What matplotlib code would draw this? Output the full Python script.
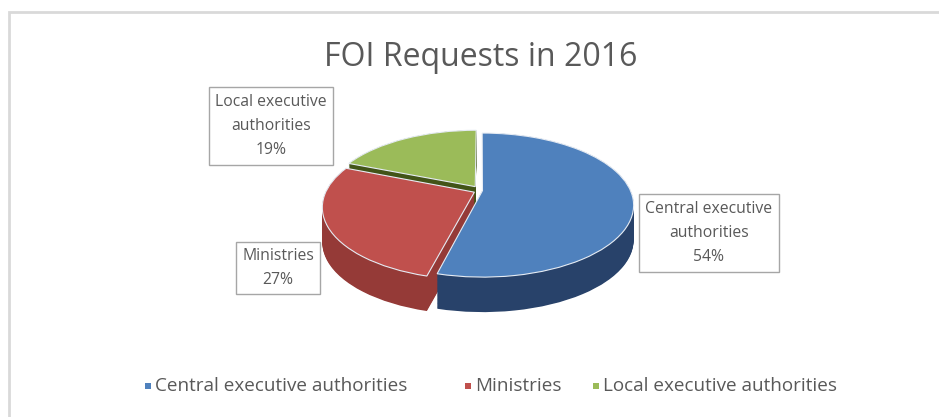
import numpy as np
import matplotlib
matplotlib.use("Agg")
import matplotlib.pyplot as plt
import matplotlib.transforms as mtransforms
from matplotlib.patches import Rectangle

# data
categories = ["Central executive authorities", "Ministries", "Local executive authorities"]
shares = [54, 27, 19]
top_colors = ["#4F81BD", "#C0504D", "#9BBB59"]
side_colors = ["#28426A", "#953A37", "#425418"]
explode = [0.01, 0.05, 0.07]
label_text = ["Central executive\nauthorities\n54%", "Ministries\n27%", "Local executive\nauthorities\n19%"]

plt.rcParams["font.family"] = ["Open Sans", "DejaVu Sans"]
TXT = "#595959"


class Perspective(mtransforms.Transform):
    """simple perspective for the tilted pie: the back gets smaller"""
    input_dims = output_dims = 2

    def __init__(self, p):
        super().__init__()
        self.p = p

    def transform_non_affine(self, xy):
        xy = np.asarray(xy, dtype=float)
        k = 1.0 / (1.0 + self.p * xy[:, 1])
        return np.column_stack([xy[:, 0] * k, xy[:, 1] * k])


W, H = 939, 417
fig = plt.figure(figsize=(W / 100, H / 100), dpi=100)

# chart border (only left and top visible in the crop)
fig.add_artist(Rectangle((8.5 / W, -0.1), 1.1, (H - 12.5) / H + 0.1, transform=fig.transFigure,
                         fill=False, ec="#D9D9D9", lw=2))

# pie axes, x and y scaled differently to tilt the pie
x0, x1, y0, y1 = 280, 680, 100, 330
ax = fig.add_axes([x0 / W, (H - y1) / H, (x1 - x0) / W, (y1 - y0) / H])
cx, cy, rx, ry = 481, 190.6, 148, 69.1
depth = 35 / ry
persp = Perspective(0.2)

# side of the pie: stacked copies, bottom up
n_layers = 45
for k in range(n_layers):
    dz = depth * (1 - k / (n_layers - 1))
    wl, _ = ax.pie(shares, startangle=90, counterclock=False, explode=explode,
                   colors=side_colors, wedgeprops=dict(linewidth=0))
    tr = persp + mtransforms.Affine2D().translate(0, -dz) + ax.transData
    for w in wl:
        w.set_transform(tr)

# top face
wedges, _ = ax.pie(shares, startangle=90, counterclock=False, explode=explode,
                   colors=top_colors, wedgeprops=dict(edgecolor="#E6ECF4", linewidth=0.8))
for w in wedges:
    w.set_transform(persp + ax.transData)

ax.set_aspect("auto")
ax.set_xlim(-(cx - x0) / rx, (x1 - cx) / rx)
ax.set_ylim(-(y1 - cy) / ry, (cy - y0) / ry)
ax.axis("off")

# title
fig.text(481 / W, 1 - 57 / H, "FOI Requests in 2016", ha="center", va="center",
         fontsize=23, color=TXT)

# data labels in boxes
label_pos = [(709, 233), (278, 268), (271, 126)]
for txt, (px, py) in zip(label_text, label_pos):
    fig.text(px / W, 1 - py / H, txt, ha="center", va="center", fontsize=11.3,
             color=TXT, linespacing=1.7, multialignment="center",
             bbox=dict(boxstyle="square,pad=0.4", fc="white", ec="#A6A6A6", lw=1))

# legend, laid out like the Excel one
leg_x = [148, 468, 596]
leg_y = 1 - 386 / H
for name, col, lx in zip(categories, top_colors, leg_x):
    fig.add_artist(Rectangle(((lx - 3) / W, leg_y - 3 / H), 6 / W, 6 / H,
                             transform=fig.transFigure, fc=col, ec="none"))
    fig.text((lx + 7) / W, leg_y, name, ha="left", va="center", fontsize=13.6, color=TXT)

fig.savefig("out.png", dpi=100)
